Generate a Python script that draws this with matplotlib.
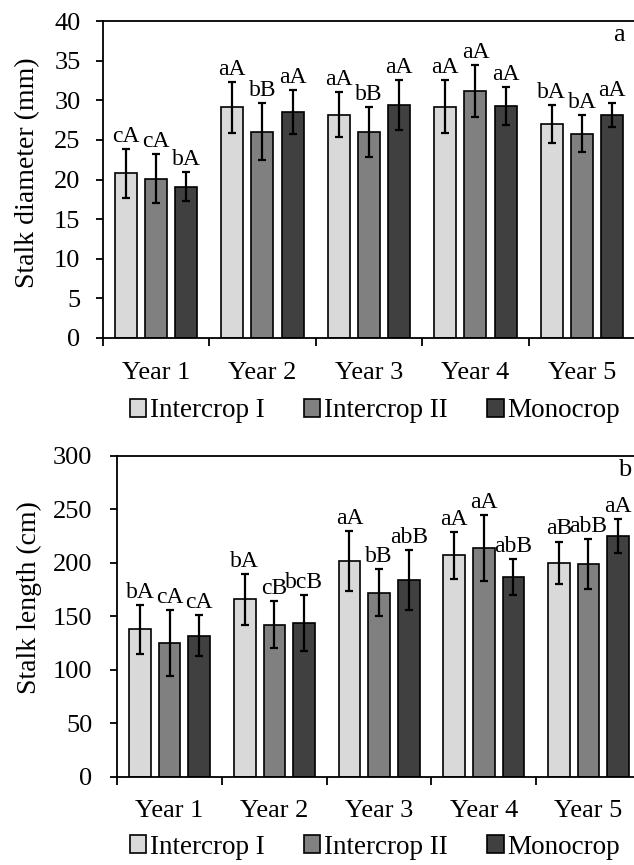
import numpy as np
import matplotlib
matplotlib.use("Agg")
import matplotlib.pyplot as plt
from matplotlib.patches import Patch

plt.rcParams['font.family'] = ['Liberation Serif', 'DejaVu Serif']

years = ['Year 1', 'Year 2', 'Year 3', 'Year 4', 'Year 5']
treatments = ['Intercrop I', 'Intercrop II', 'Monocrop']
colors = ['#d9d9d9', '#808080', '#404040']

# stalk diameter (mm), mean and error per treatment
diam_ic1 = [20.8, 29.1, 28.2, 29.2, 27.0]
diam_ic2 = [20.1, 26.0, 26.0, 31.2, 25.8]
diam_mono = [19.1, 28.5, 29.4, 29.3, 28.1]
diam_ic1_err = [3.1, 3.2, 2.8, 3.3, 2.4]
diam_ic2_err = [3.1, 3.6, 3.1, 3.3, 2.3]
diam_mono_err = [1.8, 2.8, 3.1, 2.4, 1.5]
diam_ic1_sig = ['cA', 'aA', 'aA', 'aA', 'bA']
diam_ic2_sig = ['cA', 'bB', 'bB', 'aA', 'bA']
diam_mono_sig = ['bA', 'aA', 'aA', 'aA', 'aA']

# stalk length (cm)
len_ic1 = [138, 166, 202, 207, 200]
len_ic2 = [125, 142, 172, 214, 199]
len_mono = [132, 144, 184, 187, 225]
len_ic1_err = [23, 24, 28, 22, 20]
len_ic2_err = [31, 22, 22, 31, 23]
len_mono_err = [19, 26, 28, 17, 16]
len_ic1_sig = ['bA', 'bA', 'aA', 'aA', 'aB']
len_ic2_sig = ['cA', 'cB', 'bB', 'aA', 'abB']
len_mono_sig = ['cA', 'bcB', 'abB', 'abB', 'aA']

W, H = 634, 865
fig = plt.figure(figsize=(W / 100, H / 100), dpi=100)


def px_axes(left, top, right, bottom):
    return fig.add_axes([left / W, 1 - bottom / H, (right - left) / W, (bottom - top) / H])


def draw_panel(ax, means, errs, sigs, ymax, ystep, ylabel, tag, ypad, label_pos):
    x = np.arange(len(years))
    offsets = [-0.283, 0.0, 0.283]
    for k in range(3):
        xs = x + offsets[k]
        ax.bar(xs, means[k], width=0.207, color=colors[k], edgecolor='black',
               linewidth=1.2, zorder=2)
        ax.errorbar(xs, means[k], yerr=errs[k], fmt='none', ecolor='black',
                    elinewidth=1.6, capsize=3, capthick=1.6, zorder=3)
        for xi, m, e, s in zip(xs, means[k], errs[k], sigs[k]):
            ax.annotate(s, (xi, m + e), xytext=(0, 1.5), textcoords='offset points',
                        ha='center', va='bottom', fontsize=17)
    ax.set_xlim(-0.5, len(years) - 0.5)
    ax.set_ylim(0, ymax)
    ax.set_yticks(np.arange(0, ymax + 1, ystep))
    # group separators as major ticks, year names on minor ticks
    ax.set_xticks(np.arange(-0.5, len(years)), minor=False)
    ax.set_xticklabels([])
    ax.set_xticks(x, minor=True)
    ax.set_xticklabels(years, minor=True, fontsize=19)
    ax.tick_params(axis='x', which='major', direction='out', length=6, width=1.3)
    ax.tick_params(axis='x', which='minor', length=0, pad=17)
    ax.tick_params(axis='y', direction='out', length=5, width=1.3, labelsize=19, pad=ypad)
    ax.spines['right'].set_visible(False)
    for sp in ['left', 'top', 'bottom']:
        ax.spines[sp].set_linewidth(1.3)
    ax.set_ylabel(ylabel, fontsize=20)
    ax.yaxis.set_label_coords(label_pos[0], label_pos[1])
    ax.text(0.97, 0.955, tag, transform=ax.transAxes, ha='center', va='center', fontsize=19)


ax_a = px_axes(102.7, 21, 635.2, 338)
draw_panel(ax_a, [diam_ic1, diam_ic2, diam_mono],
           [diam_ic1_err, diam_ic2_err, diam_mono_err],
           [diam_ic1_sig, diam_ic2_sig, diam_mono_sig],
           40, 5, 'Stalk diameter (mm)', 'a', 11, (-0.118, 0.52))

ax_b = px_axes(117.3, 456, 640.8, 776.7)
draw_panel(ax_b, [len_ic1, len_ic2, len_mono],
           [len_ic1_err, len_ic2_err, len_mono_err],
           [len_ic1_sig, len_ic2_sig, len_mono_sig],
           300, 50, 'Stalk length (cm)', 'b', 13, (-0.143, 0.56))

handles = [Patch(facecolor=c, edgecolor='black', linewidth=1.2) for c in colors]
for yc in (411, 847):
    fig.legend(handles, treatments, loc='center', bbox_to_anchor=(375 / W, 1 - yc / H),
               ncol=3, frameon=False, fontsize=19.5, handlelength=0.6, handleheight=0.6,
               handletextpad=0.15, columnspacing=1.45, borderpad=0, borderaxespad=0)

fig.savefig('out.png', dpi=100)
